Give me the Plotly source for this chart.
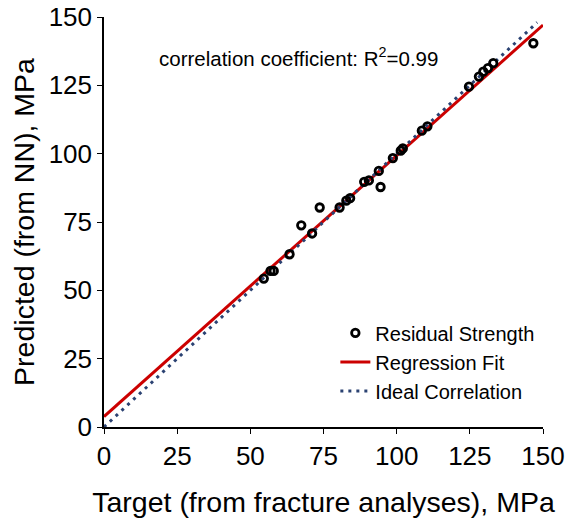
import plotly.graph_objects as go

# Data
target = [54.6, 56.9, 58.0, 63.4, 67.4, 71.1, 73.7, 80.5, 82.8, 84.1, 88.9, 90.5,
          94.5, 93.9, 98.7, 101.4, 102.1, 108.6, 110.5, 124.7, 128.1, 129.6, 131.2,
          133.0, 146.7]
predicted = [54.3, 57.1, 57.1, 63.2, 73.8, 70.8, 80.3, 80.3, 82.8, 83.7, 89.7, 90.2,
             87.8, 93.7, 98.4, 101.1, 101.9, 108.4, 110.0, 124.5, 128.2, 130.0, 131.3,
             133.1, 140.4]
fit_x = [0, 150]
fit_intercept = 3.8
fit_slope = 0.955
ideal_x = [0, 148]
ticks = [0, 25, 50, 75, 100, 125, 150]

fit_y = [fit_intercept + fit_slope * v for v in fit_x]
ideal_y = list(ideal_x)

FONT = "Liberation Sans, Arial, sans-serif"

fig = go.Figure()
fig.add_trace(go.Scatter(x=fit_x, y=fit_y, mode="lines", name="Regression Fit",
                         line=dict(color="#CC0000", width=3), legendrank=2))
fig.add_trace(go.Scatter(x=ideal_x, y=ideal_y, mode="lines", name="Ideal Correlation",
                         line=dict(color="#2B4272", width=3, dash="3px,5px"), legendrank=3))
fig.add_trace(go.Scatter(x=target, y=predicted, mode="markers", name="Residual Strength",
                         marker=dict(symbol="circle-open", size=7.5, color="black",
                                     line=dict(width=2.8, color="black")),
                         legendrank=1))

axis_common = dict(range=[0, 150], tickvals=ticks, showgrid=False, zeroline=False,
                   showline=True, linecolor="black", linewidth=1.5, automargin=False,
                   ticks="outside", ticklen=5, tickwidth=1.2, tickcolor="black",
                   tickfont=dict(family=FONT, size=26, color="black"))

fig.update_xaxes(**axis_common,
                 title=dict(text="Target (from fracture analyses), MPa",
                            font=dict(family=FONT, size=28.5, color="black"), standoff=22))
fig.update_yaxes(**axis_common,
                 title=dict(text="Predicted (from NN), MPa",
                            font=dict(family=FONT, size=28.5, color="black"), standoff=6))

fig.add_annotation(x=0.12, y=0.902, xref="paper", yref="paper", xanchor="left",
                   yanchor="middle", showarrow=False,
                   text="correlation coefficient: R<sup>2</sup>=0.99",
                   font=dict(family=FONT, size=20.5, color="black"))

fig.update_layout(
    width=568, height=521,
    margin=dict(l=104, r=25, t=17, b=94),
    plot_bgcolor="white", paper_bgcolor="white",
    legend=dict(x=0.527, y=0.277, xanchor="left", yanchor="top",
                font=dict(family=FONT, size=20, color="black"),
                bgcolor="rgba(0,0,0,0)", tracegroupgap=0),
)

fig.write_html("out.html")
